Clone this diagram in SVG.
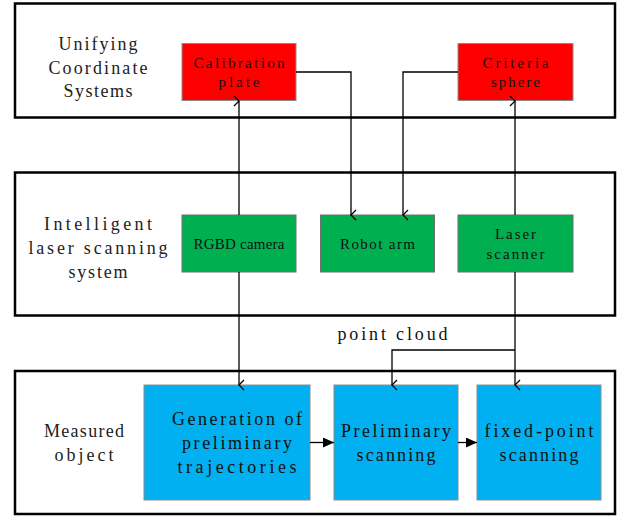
<svg xmlns="http://www.w3.org/2000/svg" width="621" height="516" viewBox="0 0 621 516">
<defs>
<style>
.frame{fill:#fff;stroke:#000;stroke-width:2.5}
.red{fill:#FF0000;stroke:#8c8c8c;stroke-width:1}
.green{fill:#00B050;stroke:#6f6f6f;stroke-width:1}
.blue{fill:#00B0F0;stroke:#8c8c8c;stroke-width:1}
.lbl{font-family:"Liberation Serif",serif;font-size:18px;fill:#222;text-anchor:middle}
.sm{font-family:"Liberation Serif",serif;font-size:15px;fill:#111;text-anchor:middle}
.big{font-family:"Liberation Serif",serif;font-size:18px;fill:#111;text-anchor:middle}
.c{fill:none;stroke:#000;stroke-width:1.3}
</style>
<marker id="open" viewBox="0 0 12 10" refX="6" refY="9" markerWidth="12" markerHeight="10" markerUnits="userSpaceOnUse" orient="auto-start-reverse">
<path d="M1,4 L6,9 L11,4" fill="none" stroke="#000" stroke-width="1.3"/>
</marker>
<marker id="fill" viewBox="0 0 12 10" refX="11" refY="5" markerWidth="12" markerHeight="10" markerUnits="userSpaceOnUse" orient="auto">
<path d="M0,0 L11,5 L0,10 Z" fill="#000"/>
</marker>
</defs>
<g id="frame-unify"><rect class="frame" x="15" y="3.5" width="600" height="114"/>
<text class="lbl" x="98" y="50" textLength="79">Unifying</text><text class="lbl" x="98" y="74" textLength="99">Coordinate</text><text class="lbl" x="98" y="97" textLength="69">Systems</text></g>
<g id="frame-system"><rect class="frame" x="15" y="172.5" width="600" height="143"/>
<text class="lbl" x="98" y="230" textLength="108">Intelligent</text><text class="lbl" x="98" y="254" textLength="139">laser scanning</text><text class="lbl" x="98" y="278" textLength="59">system</text></g>
<g id="frame-object"><rect class="frame" x="15" y="371" width="600" height="143"/>
<text class="lbl" x="84" y="437" textLength="80">Measured</text><text class="lbl" x="84" y="461" textLength="59">object</text></g>
<g id="calibration-plate"><rect class="red" x="182" y="43.5" width="114" height="57"/>
<text class="sm" x="239" y="68" textLength="91">Calibration</text><text class="sm" x="239" y="87" textLength="41">plate</text></g>
<g id="criteria-sphere"><rect class="red" x="458" y="43.5" width="115" height="57"/>
<text class="sm" x="515.5" y="68" textLength="66">Criteria</text><text class="sm" x="515.5" y="87" textLength="49">sphere</text></g>
<g id="rgbd-camera"><rect class="green" x="182" y="215" width="114" height="57"/>
<text class="sm" x="239" y="249" textLength="91">RGBD camera</text></g>
<g id="robot-arm"><rect class="green" x="320.5" y="215" width="114" height="57"/>
<text class="sm" x="377.5" y="249" textLength="75">Robot arm</text></g>
<g id="laser-scanner"><rect class="green" x="458" y="215" width="115" height="57"/>
<text class="sm" x="515.5" y="239" textLength="41">Laser</text><text class="sm" x="515.5" y="259" textLength="58">scanner</text></g>
<g id="generation"><rect class="blue" x="144" y="385" width="166" height="115"/>
<text class="big" x="237" y="425" textLength="130">Generation of</text><text class="big" x="237" y="449" textLength="110">preliminary</text><text class="big" x="237" y="473" textLength="119">trajectories</text></g>
<g id="preliminary-scanning"><rect class="blue" x="334" y="385" width="124" height="115"/>
<text class="big" x="396" y="437" textLength="110">Preliminary</text><text class="big" x="396" y="461" textLength="79">scanning</text></g>
<g id="fixed-point-scanning"><rect class="blue" x="477" y="385" width="124" height="115"/>
<text class="big" x="539" y="437" textLength="109">fixed-point</text><text class="big" x="539" y="461" textLength="79">scanning</text></g>
<g id="connectors">
<path class="c" d="M239,215 L239,101" marker-end="url(#open)"/>
<path class="c" d="M239,272 L239,385" marker-end="url(#open)"/>
<path class="c" d="M296,72 L351,72 L351,215" marker-end="url(#open)"/>
<path class="c" d="M458,72 L403,72 L403,215" marker-end="url(#open)"/>
<path class="c" d="M515,215 L515,101" marker-end="url(#open)"/>
<path class="c" d="M515,272 L515,385" marker-end="url(#open)"/>
<path class="c" d="M515,350 L392,350 L392,385" marker-end="url(#open)"/>
<path class="c" d="M310,442.5 L334,442.5" marker-end="url(#fill)"/>
<path class="c" d="M458,442.5 L477,442.5" marker-end="url(#fill)"/>
<text class="big" x="392.5" y="340" textLength="110">point cloud</text>
</g>
</svg>
